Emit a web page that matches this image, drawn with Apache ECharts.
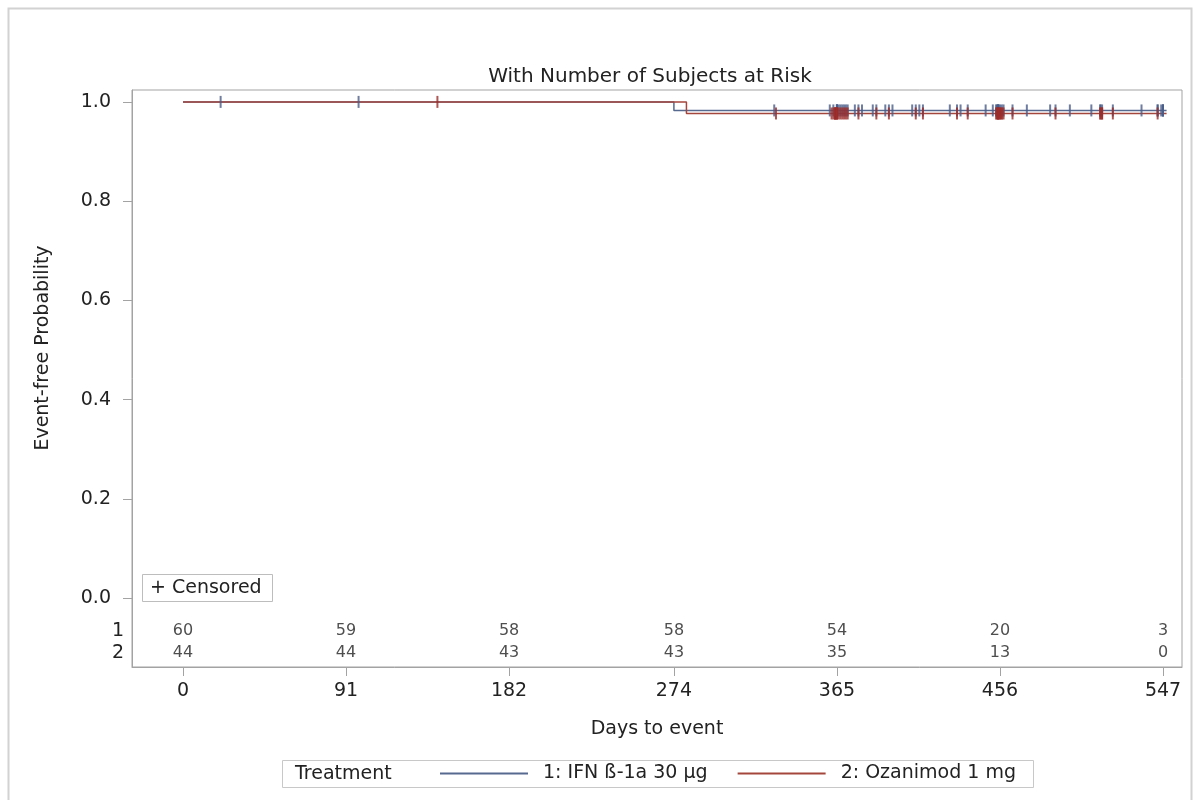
<!DOCTYPE html>
<html>
<head>
<meta charset="utf-8">
<script src="https://cdn.jsdelivr.net/npm/echarts@6/dist/echarts.min.js"></script>
<style>
html,body{margin:0;padding:0;background:#fff;}
#c{width:1201px;height:800px;}
</style>
</head>
<body>
<div id="c"></div>
<script>
// ---- data ----
const groupNames = ['1: IFN ß-1a 30 µg', '2: Ozanimod 1 mg'];
const riskTimes = [0, 91, 182, 274, 365, 456, 547];
const atRisk1 = [60, 59, 58, 58, 54, 20, 3];
const atRisk2 = [44, 44, 43, 43, 35, 13, 0];
const xTicks = [0, 91, 182, 274, 365, 456, 547];
const yTicks = [0, 0.2, 0.4, 0.6, 0.8, 1.0];
// Kaplan-Meier steps: event days and survival after each event
const eventDays1 = [274];
const survAfter1 = [0.9828];
const eventDays2 = [281];
const survAfter2 = [0.9767];
const lastDay = 549;
// censored times
const censor1 = [21, 98, 330, 361, 363,
  365, 365, 365, 365, 366, 367, 368, 369, 370, 371, 375, 377, 379, 385, 387, 392, 394, 396,
  407, 409, 411, 413, 428, 432, 434, 438, 448, 452, 454, 454, 455, 455, 455, 455,
  456, 457, 458, 463, 471, 484, 487, 495, 507, 512, 512, 513, 519, 535, 544, 544, 546,
  547, 547, 547];
const censor2 = [142, 331, 362, 363, 364, 364, 364, 364,
  365, 365, 365, 366, 367, 368, 369, 370, 371, 377, 387, 394, 409, 413, 432, 438,
  454, 454, 455, 455, 455, 455,
  456, 456, 457, 457, 458, 463, 487, 512, 512, 513, 513, 519, 544];

// ---- helpers ----
function stepData(days, surv) {
  const d = [[0, 1]];
  days.forEach((t, i) => d.push([t, surv[i]]));
  d.push([lastDay, surv[surv.length - 1]]);
  return d;
}
function survAt(t, days, surv) {
  let s = 1;
  days.forEach((e, i) => { if (t >= e) s = surv[i]; });
  return s;
}
const FONT = '"DejaVu Sans", "Liberation Sans", sans-serif';
const TXT = '#222';
const C1 = '#56698f';
const C2 = '#a5463c';
const M1 = '#4a5c88';
const M2 = '#9b2d2a';
const ROW1_Y = -0.0665, ROW2_Y = -0.111;

const chart = echarts.init(document.getElementById('c'));
chart.setOption({
  backgroundColor: '#fff',
  animation: false,
  title: {
    text: 'With Number of Subjects at Risk',
    left: 645, top: 62, textAlign: 'center',
    textStyle: { fontFamily: FONT, fontSize: 20, fontWeight: 'normal', color: TXT }
  },
  grid: {
    left: 132, right: 19, top: 90, bottom: 133,
    show: true, borderColor: '#a3a3a3', borderWidth: 1,
    containLabel: false, outerBoundsMode: 'none'
  },
  xAxis: {
    type: 'value', min: -28.47, max: 557.6,
    name: 'Days to event', nameLocation: 'middle', nameGap: 53,
    nameTextStyle: { fontFamily: FONT, fontSize: 19, color: TXT },
    axisLine: { show: true, onZero: false, lineStyle: { color: '#a3a3a3' } },
    axisTick: { show: true, length: 9, customValues: xTicks, lineStyle: { color: '#a3a3a3' } },
    axisLabel: { customValues: xTicks, margin: 15, fontFamily: FONT, fontSize: 19, color: TXT },
    splitLine: { show: false }
  },
  yAxis: {
    type: 'value', min: -0.139, max: 1.024,
    axisLine: { show: true, onZero: false, lineStyle: { color: '#a3a3a3' } },
    axisTick: { show: true, length: 9, customValues: yTicks, lineStyle: { color: '#a3a3a3' } },
    axisLabel: { customValues: yTicks, margin: 21, fontFamily: FONT, fontSize: 19, color: TXT,
      formatter: v => v.toFixed(1) },
    splitLine: { show: false }
  },
  legend: {
    data: groupNames,
    left: 440, top: 764, padding: 0,
    icon: 'rect', itemWidth: 88, itemHeight: 2, itemGap: 30,
    textStyle: { fontFamily: FONT, fontSize: 19, color: TXT, padding: [0, 0, 0, 10] }
  },
  graphic: [
    { type: 'rect', shape: { x: 8.5, y: 8.5, width: 1183, height: 820 }, style: { fill: 'none', stroke: '#d2d2d2', lineWidth: 2 }, silent: true },
    { type: 'text', x: 43, y: 348, rotation: Math.PI / 2, style: { text: 'Event-free Probability', fontFamily: FONT, fontSize: 19, fill: TXT, align: 'center', verticalAlign: 'middle' } },
    { type: 'rect', shape: { x: 142.5, y: 574.5, width: 130, height: 27 }, style: { fill: '#fff', stroke: '#bdbdbd', lineWidth: 1 }, z: 50 },
    { type: 'text', x: 150, y: 588, style: { text: '+ Censored', fontFamily: FONT, fontSize: 19, fill: TXT, verticalAlign: 'middle' }, z: 51 },
    { type: 'text', x: 124, y: 631, style: { text: '1', fontFamily: FONT, fontSize: 19, fill: TXT, align: 'right', verticalAlign: 'middle' } },
    { type: 'text', x: 124, y: 653, style: { text: '2', fontFamily: FONT, fontSize: 19, fill: TXT, align: 'right', verticalAlign: 'middle' } },
    { type: 'rect', shape: { x: 282.5, y: 760.5, width: 751, height: 27 }, style: { fill: 'none', stroke: '#c8c8c8', lineWidth: 1 } },
    { type: 'text', x: 295, y: 774, style: { text: 'Treatment', fontFamily: FONT, fontSize: 19, fill: TXT, verticalAlign: 'middle' } }
  ],
  series: [
    {
      name: groupNames[0], type: 'line', step: 'end', symbol: 'none',
      color: C1, lineStyle: { color: C1, width: 1.5 },
      data: stepData(eventDays1, survAfter1), z: 3
    },
    {
      name: groupNames[1], type: 'line', step: 'end', symbol: 'none',
      color: C2, lineStyle: { color: C2, width: 1.5 },
      data: stepData(eventDays2, survAfter2), z: 3
    },
    {
      name: 'cens1', type: 'scatter', symbol: 'rect', symbolSize: [2, 12],
      itemStyle: { color: M1 }, z: 4,
      data: censor1.map(t => [t, survAt(t, eventDays1, survAfter1)])
    },
    {
      name: 'cens2', type: 'scatter', symbol: 'rect', symbolSize: [2, 12],
      itemStyle: { color: M2 }, z: 5,
      data: censor2.map(t => [t, survAt(t, eventDays2, survAfter2)])
    },
    {
      name: 'risk1', type: 'scatter', symbolSize: 0, silent: true,
      label: { show: true, position: 'inside', formatter: p => String(p.value[2]),
        fontFamily: FONT, fontSize: 16, color: TXT },
      data: riskTimes.map((t, i) => [t, ROW1_Y, atRisk1[i]])
    },
    {
      name: 'risk2', type: 'scatter', symbolSize: 0, silent: true,
      label: { show: true, position: 'inside', formatter: p => String(p.value[2]),
        fontFamily: FONT, fontSize: 16, color: TXT },
      data: riskTimes.map((t, i) => [t, ROW2_Y, atRisk2[i]])
    }
  ]
});
</script>
</body>
</html>
